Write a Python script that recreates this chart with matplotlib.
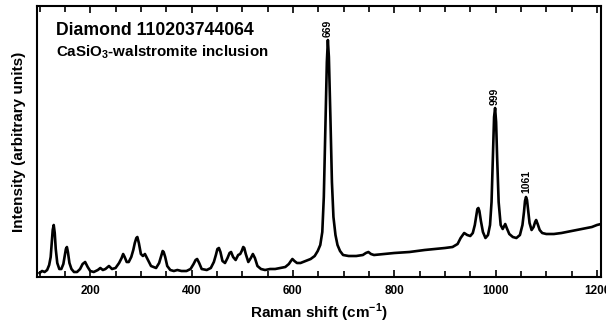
import numpy as np
import matplotlib.pyplot as plt
from matplotlib.ticker import MultipleLocator

# ── Data ──────────────────────────────────────────────────────────────────────

raman_shift = [
    100, 105, 110, 115, 119, 122, 124, 126, 128, 130, 132, 135, 139, 143, 147,
    150, 152, 154, 156, 159, 163, 168, 174, 180, 185, 190, 195, 200, 207, 215,
    220, 225, 230, 237, 243, 250, 257, 262, 265, 268, 272, 276, 281, 285, 288,
    291, 293, 296, 300, 304, 308, 313, 320, 330, 336, 340, 343, 345, 348, 352,
    358, 365, 372, 380, 390, 398, 404, 408, 411, 415, 420, 430, 438, 444, 448,
    451, 454, 457, 461, 466, 471, 475, 478, 482, 487, 492, 496, 499, 502, 504,
    507, 512, 517, 521, 525, 530, 537, 545, 555, 565, 575, 585, 592, 596, 599,
    603, 608, 615, 625, 635, 643, 649, 654, 658, 661, 664, 667, 669, 671, 674,
    677, 680, 684, 688, 693, 699, 710, 725, 738, 744, 749, 754, 760, 780, 800,
    830, 860, 900, 915, 925, 931, 938, 944, 950, 955, 959, 962, 964, 966, 968,
    971, 975, 980, 985, 989, 992, 995, 997, 999, 1001, 1003, 1006, 1010, 1014,
    1017, 1019, 1022, 1027, 1034, 1041, 1048, 1053, 1056, 1058, 1060, 1062,
    1064, 1067, 1071, 1075, 1078, 1080, 1083, 1087, 1092, 1100, 1115, 1130,
    1150, 1170, 1190, 1200, 1208,
]
intensity = [
    4, 6, 5, 7, 12, 20, 33, 47, 52, 44, 28, 14, 8, 8, 13,
    22, 28, 30, 25, 14, 8, 5, 5, 8, 13, 15, 10, 6, 5, 7,
    9, 7, 8, 11, 8, 9, 14, 19, 23, 20, 15, 15, 20, 27, 34,
    39, 40, 34, 23, 21, 23, 18, 11, 9, 14, 21, 26, 25, 20, 11,
    7, 6, 7, 6, 6, 8, 13, 17, 18, 14, 8, 7, 9, 15, 22,
    28, 29, 25, 16, 14, 19, 24, 25, 20, 17, 22, 23, 26, 30, 29,
    23, 15, 19, 23, 19, 11, 8, 7, 8, 8, 9, 10, 13, 16, 18,
    16, 14, 14, 16, 18, 21, 26, 32, 45, 80, 150, 215, 237, 220, 160,
    95, 60, 42, 32, 26, 22, 21, 21, 22, 24, 25, 23, 22, 23, 24,
    25, 27, 29, 30, 33, 39, 44, 42, 41, 44, 52, 62, 68, 69, 66,
    56, 45, 39, 42, 52, 75, 125, 160, 169, 155, 120, 75, 52, 48,
    51, 53, 49, 43, 40, 39, 42, 52, 65, 76, 80, 77,
    68, 54, 47, 50, 55, 57, 53, 47, 44, 43, 43, 44,
    46, 48, 50, 52, 53,
]

peak_labels = ["669", "999", "1061"]
peak_pos    = [669, 999, 1061]
peak_text_y = [249, 181, 96]

title    = "Diamond 110203744064"
subtitle = "CaSiO$_\\mathbf{3}$-walstromite inclusion"

# ── Plot ───────────────────────────────────────────────────────────────────────

plt.rcParams['font.family'] = ['Liberation Sans', 'DejaVu Sans']
plt.rcParams['mathtext.fontset'] = 'custom'
plt.rcParams['mathtext.bf'] = 'Liberation Sans:bold'
plt.rcParams['mathtext.rm'] = 'Liberation Sans'

fig = plt.figure(figsize=(6.06, 3.27), dpi=100)
ax = fig.add_axes([37 / 606, 50 / 327, 564 / 606, 271 / 327])

ax.plot(raman_shift, intensity, color="black", linewidth=1.9)

for lab, xp, yp in zip(peak_labels, peak_pos, peak_text_y):
    ax.text(xp, yp, lab, rotation=90, ha="center", va="center",
            fontsize=7.5, fontweight="bold")

ax.text(0.034, 0.91, title, transform=ax.transAxes, fontsize=12.7,
        fontweight="bold", va="center", ha="left")
ax.text(0.034, 0.83, subtitle, transform=ax.transAxes, fontsize=10.9,
        fontweight="bold", va="center", ha="left")

ax.set_xlim(95, 1208)
ax.set_ylim(0, 271)
ax.set_yticks([])
ax.xaxis.set_major_locator(MultipleLocator(200))
ax.xaxis.set_minor_locator(MultipleLocator(50))
ax.tick_params(axis="x", which="both", direction="in", top=True, bottom=True,
               width=1.2, labelsize=8.5, pad=6)
ax.tick_params(axis="x", which="major", length=5)
ax.tick_params(axis="x", which="minor", length=4)
for lbl in ax.get_xticklabels():
    lbl.set_fontweight("bold")
for sp in ax.spines.values():
    sp.set_linewidth(1.5)

ax.set_xlabel("Raman shift (cm$^{\\mathbf{-1}}$)", fontsize=11,
              fontweight="bold", labelpad=3)
ax.set_ylabel("Intensity (arbitrary units)", fontsize=11, fontweight="bold",
              labelpad=8)

fig.savefig("out.png", dpi=100)
